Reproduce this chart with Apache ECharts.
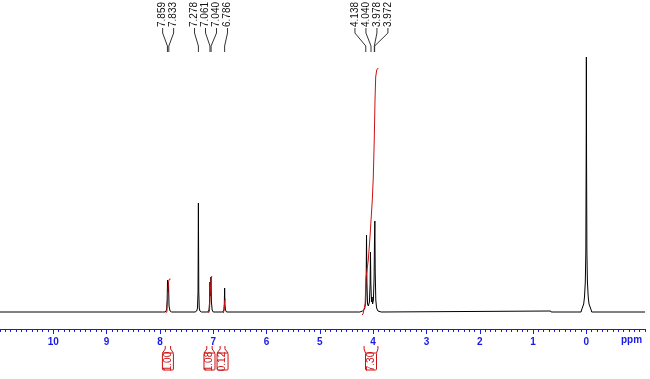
<!DOCTYPE html>
<html><head><meta charset="utf-8">
<script src="https://cdn.jsdelivr.net/npm/echarts@6/dist/echarts.min.js"></script>
<style>html,body{margin:0;padding:0;background:#fff}#c{width:650px;height:379px}</style>
</head><body><div id="c"></div>
<script>
// ---- data ----
const tickLabels = [10, 9, 8, 7, 6, 5, 4, 3, 2, 1, 0];
const axisUnit = 'ppm';
const peakLabelGroups = [[7.859, 7.833], [7.278, 7.061, 7.040, 6.786], [4.138, 4.040, 3.978, 3.972]];
const integralValues = ['1.00', '1.08', '0.12', '7.30'];
const integralRegions = [[7.90, 7.80], [7.12, 7.02], [6.87, 6.78], [4.17, 3.91]];

// spectrum points [ppm, intensity]
const specBaseLeft = [[11.0, 0], [7.95, 0]];
const specPeak785 = [[7.90, 0], [7.875, 2], [7.864, 12], [7.857, 32], [7.849, 20], [7.839, 30], [7.829, 6], [7.81, 1], [7.78, 0], [7.40, 0]];
const specPeakCDCl3 = [[7.34, 0], [7.31, 1], [7.295, 4], [7.285, 20], [7.278, 109], [7.271, 20], [7.262, 4], [7.25, 1], [7.22, 0]];
const specPeak705 = [[7.10, 0], [7.08, 2], [7.068, 10], [7.061, 30], [7.052, 16], [7.043, 35], [7.034, 10], [7.02, 2], [7.0, 0]];
const specPeak679 = [[6.82, 0], [6.80, 2], [6.792, 8], [6.786, 24], [6.780, 8], [6.77, 2], [6.75, 0], [5.5, 0]];
const specCluster400 = [[4.25, 0], [4.20, 1], [4.16, 3], [4.14, 10], [4.131, 30], [4.124, 77], [4.117, 30], [4.105, 8], [4.09, 6], [4.07, 10], [4.057, 28], [4.050, 60], [4.043, 28], [4.03, 10], [4.02, 15], [4.01, 8], [3.995, 12], [3.982, 35], [3.975, 70], [3.968, 91], [3.961, 40], [3.95, 12], [3.935, 4], [3.91, 1], [3.85, 0]];
const specTMS = [[0.67, 1], [0.66, 0], [0.10, 0], [0.09, 2], [0.05, 8], [0.035, 15], [0.02, 30], [0.01, 60], [0.004, 150], [0.0, 255], [-0.004, 150], [-0.01, 60], [-0.02, 30], [-0.035, 15], [-0.05, 8], [-0.09, 2], [-0.10, 0]];
const specBaseRight = [[-1.1, 0]];

// integral curves [ppm, height]
const integral1 = [[7.89, -1], [7.87, 0], [7.862, 8], [7.853, 18], [7.845, 25], [7.835, 31], [7.82, 33], [7.80, 33]];
const integral2 = [[7.09, -1], [7.07, 1], [7.062, 12], [7.055, 20], [7.045, 30], [7.035, 35], [7.02, 36]];
const integral3 = [[6.81, -1], [6.795, 2], [6.788, 8], [6.782, 12], [6.77, 13]];
const integral4 = [[4.21, -3], [4.19, -2], [4.15, 8], [4.134, 34], [4.091, 52], [4.059, 75], [4.016, 112], [3.997, 135], [3.978, 175], [3.965, 212], [3.952, 235], [3.933, 242], [3.903, 244]];

// ---- chart ----
const BLUE = '#1a1ae6';
const RED = '#cc1111';
const minorTicks = [];
for (let i = -11; i <= 110; i++) minorTicks.push(i / 10);

const spectrum = [].concat(specBaseLeft, specPeak785, specPeakCDCl3, specPeak705, specPeak679, specCluster400, specTMS, specBaseRight);

const chart = echarts.init(document.getElementById('c'), null, { renderer: 'canvas' });

// draws a whole curve as one exact polyline through the axis scales
function curveSeries(curve, color, z) {
  return {
    type: 'custom', clip: false, z: z, encode: { x: 0, y: 1 }, data: curve,
    renderItem: function (params, api) {
      if (params.dataIndex !== 0) return null;
      const pts = curve.map(p => api.coord(p));
      return { type: 'polyline', silent: true, shape: { points: pts },
        style: { stroke: color, lineWidth: 1, fill: null, lineJoin: 'round' } };
    }
  };
}

function peakLabelRender(params, api) {
  const group = peakLabelGroups[api.value(2)];
  const pxs = group.map(p => api.coord([p, 0])[0]);
  const center = pxs.reduce((a, b) => a + b, 0) / pxs.length;
  const n = group.length;
  const children = [];
  group.forEach((p, i) => {
    const lx = center + (i - (n - 1) / 2) * 11;
    const px = pxs[i];
    children.push({
      type: 'polyline',
      shape: { points: [[lx, 28], [lx, 33], [px, 46], [px, 52]] },
      style: { stroke: '#333', lineWidth: 1, fill: null }
    });
    children.push({
      type: 'text', x: lx, y: 27, rotation: Math.PI / 2,
      style: { text: p.toFixed(3), fill: '#111', font: '10px "Liberation Sans"', align: 'left', verticalAlign: 'middle' }
    });
  });
  return { type: 'group', children };
}

function integralLabelRender(params, api) {
  const idx = api.value(2);
  const r = integralRegions[idx];
  const x1 = api.coord([r[0], 0])[0];
  const x2 = api.coord([r[1], 0])[0];
  const xc = (x1 + x2) / 2;
  return {
    type: 'group',
    children: [
      { type: 'polyline', shape: { points: [[x1, 346], [x1, 349], [xc - 5.5, 353]] }, style: { stroke: RED, lineWidth: 1, fill: null } },
      { type: 'polyline', shape: { points: [[x2, 346], [x2, 349], [xc + 5.5, 353]] }, style: { stroke: RED, lineWidth: 1, fill: null } },
      { type: 'rect', shape: { x: xc - 5.5, y: 353, width: 11, height: 17, r: 1 }, style: { stroke: RED, lineWidth: 1, fill: null } },
      { type: 'text', x: xc, y: 361.5, rotation: Math.PI / 2,
        style: { text: integralValues[idx], fill: RED, font: '10px "Liberation Sans"', align: 'center', verticalAlign: 'middle' } }
    ]
  };
}

chart.setOption({
  animation: false,
  backgroundColor: '#fff',
  grid: { left: 0, right: 5, top: 40, bottom: 50, containLabel: false, outerBoundsMode: 'none' },
  xAxis: [{
    type: 'value', min: -1.1, max: 11.0, inverse: true, position: 'bottom',
    axisLine: { show: true, onZero: false, lineStyle: { color: BLUE, width: 1 } },
    axisTick: { show: true, customValues: minorTicks, length: 3, lineStyle: { color: BLUE, width: 1 } },
    axisLabel: { show: true, customValues: tickLabels, margin: 8, color: BLUE, fontWeight: 'bold', fontSize: 10, fontFamily: 'Liberation Sans' },
    splitLine: { show: false }
  }, {
    type: 'value', min: -1.1, max: 11.0, inverse: true, position: 'bottom', offset: 0,
    axisLine: { show: false, onZero: false },
    axisTick: { show: true, customValues: tickLabels, length: 5, lineStyle: { color: BLUE, width: 1 } },
    axisLabel: { show: false },
    splitLine: { show: false }
  }],
  yAxis: { type: 'value', min: -17, max: 272, show: false, splitLine: { show: false } },
  graphic: [{
    type: 'text', left: 621, top: 335,
    style: { text: axisUnit, fill: BLUE, font: 'bold 10px "Liberation Sans"' }
  }],
  series: [
    curveSeries(spectrum, '#000', 2),
    curveSeries(integral1, RED, 3),
    curveSeries(integral2, RED, 3),
    curveSeries(integral3, RED, 3),
    curveSeries(integral4, RED, 3),
    { type: 'custom', renderItem: peakLabelRender, clip: false, encode: { x: 0, y: 1 },
      data: peakLabelGroups.map((g, i) => [g[0], 0, i]), z: 4 },
    { type: 'custom', renderItem: integralLabelRender, clip: false, encode: { x: 0, y: 1 },
      data: integralRegions.map((r, i) => [r[0], 0, i]), z: 4 }
  ]
});
</script>
</body></html>
